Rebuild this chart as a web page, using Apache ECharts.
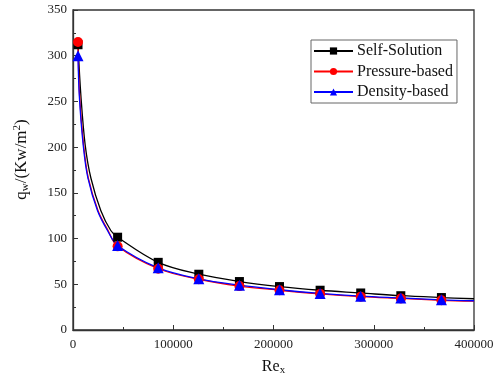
<!DOCTYPE html>
<html>
<head>
<meta charset="utf-8">
<script src="https://cdn.jsdelivr.net/npm/echarts@6/dist/echarts.min.js"></script>
<style>
  html, body { margin: 0; padding: 0; background: #fff; }
  #chart { width: 501px; height: 381px; }
</style>
</head>
<body>
<div id="chart"></div>
<script>
// Wall heat flux along the plate versus local Reynolds number
const seriesNames = ['Self-Solution', 'Pressure-based', 'Density-based'];

// Reynolds numbers of the sampled stations
const rexStations = [5000, 44500, 85000, 125500, 166000, 206000, 246500, 287000, 327000, 367500];

// Heat flux at the stations (Kw/m^2)
const qSelf     = [312, 101.5, 74, 61, 53, 47.5, 43.5, 40.5, 37.5, 35.5];
const qPressure = [315, 91.5, 67, 55.5, 48, 43.5, 39.5, 36.5, 34.5, 32.5];
const qDensity  = [300, 92.5, 68, 56, 49, 44, 40, 37, 35, 33];

// Extra points along each fitted curve (no marker drawn there)
const curveSelf     = [[7900, 256], [12200, 202], [17900, 166], [27800, 130.5], [37700, 108.8], [400000, 34.2]];
const curvePressure = [[6500, 258], [10600, 202], [15300, 166], [25000, 130.5], [35000, 108.8], [400000, 31.5]];
const curveDensity  = [[6300, 256], [10200, 202], [14900, 166], [24500, 130.5], [34400, 108.8], [400000, 32]];

// X axis ticks
const xTicks = [0, 100000, 200000, 300000, 400000];

function buildData(values, curve) {
  const pts = rexStations.map((x, i) => ({ value: [x, values[i]] }));
  curve.forEach(p => pts.push({ value: p, symbol: 'none' }));
  pts.sort((a, b) => a.value[0] - b.value[0]);
  return pts;
}

const font = 'Liberation Serif, Times New Roman, serif';
const chart = echarts.init(document.getElementById('chart'), null, { renderer: 'canvas' });

function lineSeries(name, color, symbol, size, values, curve) {
  return {
    name: name,
    type: 'line',
    data: buildData(values, curve),
    smooth: 0.35,
    symbol: symbol,
    symbolSize: size,
    showAllSymbol: true,
    lineStyle: { color: color, width: 1.3 },
    itemStyle: { color: color },
    emphasis: { disabled: true },
    animation: false
  };
}

chart.setOption({
  backgroundColor: '#fff',
  animation: false,
  grid: {
    left: 73, right: 27, top: 10, bottom: 47,
    show: true, borderColor: '#333', borderWidth: 1.3, backgroundColor: 'transparent'
  },
  legend: {
    data: seriesNames,
    orient: 'vertical',
    left: 311, top: 40,
    padding: [3, 4, 3, 2],
    itemGap: 4.5,
    itemWidth: 39,
    itemHeight: 9,
    borderColor: '#666',
    borderWidth: 1,
    textStyle: { fontFamily: font, fontSize: 16, color: '#111', padding: [0, 0, 0, -1] }
  },
  xAxis: {
    type: 'value',
    min: 0, max: 400000, interval: 100000,
    name: '{b|Re}{s|x}',
    nameLocation: 'middle',
    nameGap: 27,
    nameTextStyle: {
      rich: {
        b: { fontFamily: font, fontSize: 16, color: '#111' },
        s: { fontFamily: font, fontSize: 11, color: '#111', padding: [8, 0, 0, 0] }
      }
    },
    axisLine: { show: true, lineStyle: { color: '#333', width: 1.3 } },
    axisTick: { show: true, inside: true, length: 5, lineStyle: { color: '#333' } },
    minorTick: { show: true, splitNumber: 2, length: 3, lineStyle: { color: '#333' } },
    splitLine: { show: false },
    axisLabel: {
      fontFamily: font, fontSize: 13, color: '#222', margin: 8,
      formatter: v => xTicks.includes(v) ? String(v) : ''
    }
  },
  yAxis: {
    type: 'value',
    min: 0, max: 350, interval: 50,
    name: '{b|q}{s|w}{b|/(Kw/m}{p|2}{b|)}',
    nameLocation: 'middle',
    nameGap: 42,
    nameRotate: 90,
    nameTextStyle: {
      padding: [0, 0, 0, 21],
      rich: {
        b: { fontFamily: font, fontSize: 17, color: '#111' },
        s: { fontFamily: font, fontSize: 11, color: '#111', padding: [8, 0, 0, 0] },
        p: { fontFamily: font, fontSize: 11, color: '#111', padding: [0, 0, 8, 0] }
      }
    },
    axisLine: { show: true, lineStyle: { color: '#333', width: 1.3 } },
    axisTick: { show: true, inside: true, length: 5, lineStyle: { color: '#333' } },
    minorTick: { show: true, splitNumber: 2, length: 3, lineStyle: { color: '#333' } },
    splitLine: { show: false },
    axisLabel: { fontFamily: font, fontSize: 13, color: '#222', margin: 6 }
  },
  series: [
    lineSeries('Self-Solution', '#000000', 'rect', 9, qSelf, curveSelf),
    lineSeries('Pressure-based', '#ff0000', 'circle', 10, qPressure, curvePressure),
    lineSeries('Density-based', '#0000ff', 'triangle', 11, qDensity, curveDensity)
  ]
});
</script>
</body>
</html>
